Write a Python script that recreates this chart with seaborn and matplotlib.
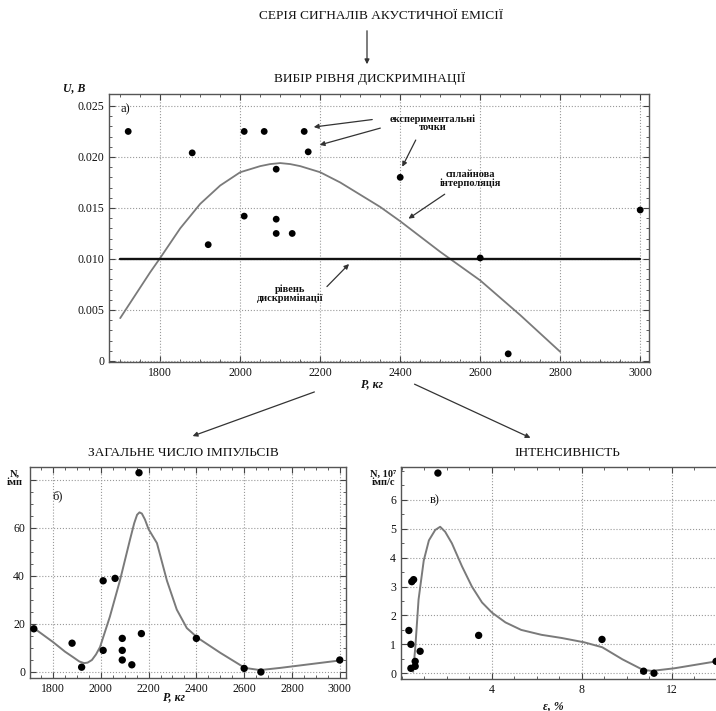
import numpy as np
import matplotlib
matplotlib.use("Agg")
import matplotlib.pyplot as plt
import pandas as pd
import seaborn as sns

# experimental points (same loads for panels a and b)
load = [1720, 1880, 1920, 2010, 2010, 2060, 2090, 2090, 2090, 2130, 2160, 2170, 2400, 2600, 2670, 3000]
u_volt = [0.0225, 0.0204, 0.0114, 0.0225, 0.0142, 0.0225, 0.0188, 0.0139, 0.0125, 0.0125,
          0.0225, 0.0205, 0.0180, 0.0101, 0.0007, 0.0148]
n_imp = [18, 12, 2, 38, 9, 39, 14, 9, 5, 3, 83, 16, 14, 1.5, 0, 5]

# spline curves
spl_a_x = [1700, 1725, 1750, 1775, 1800, 1850, 1900, 1950, 2000, 2050, 2075, 2100, 2125, 2150,
           2200, 2250, 2300, 2350, 2400, 2450, 2500, 2550, 2600, 2650, 2700, 2750, 2800]
spl_a_y = [0.0042, 0.0057, 0.0072, 0.0087, 0.0101, 0.0130, 0.0154, 0.0172, 0.0185, 0.0191,
           0.0193, 0.0194, 0.0193, 0.0191, 0.0185, 0.0175, 0.0163, 0.0151, 0.0137, 0.0122,
           0.0107, 0.0093, 0.0079, 0.0062, 0.0045, 0.0027, 0.0009]
discr_level = 0.010

spl_b_x = [1720, 1800, 1850, 1884, 1910, 1930, 1945, 1963, 1980, 1997, 2038, 2080, 2122, 2140,
           2152, 2162, 2172, 2185, 2200, 2235, 2277, 2318, 2360, 2406, 2500, 2603, 2666, 2750, 3000]
spl_b_y = [18.3, 12.5, 8.5, 6.2, 4.4, 3.7, 3.9, 5.0, 7.3, 10.4, 23, 38, 55, 62, 65.5, 66.5, 66,
           63.5, 59.5, 53.7, 38, 26, 18.3, 14.2, 8.0, 1.7, 0.8, 1.7, 4.8]

# panel c
eps = [0.31, 0.40, 0.40, 0.44, 0.52, 0.59, 0.59, 0.81, 1.6, 3.41, 8.89, 10.74, 11.2, 13.96]
intens = [1.48, 1.0, 0.17, 3.17, 3.24, 0.41, 0.24, 0.76, 6.93, 1.31, 1.17, 0.07, 0.0, 0.41]
spl_c_x = [0.5, 0.6, 0.74, 0.97, 1.2, 1.48, 1.7, 1.92, 2.22, 2.67, 3.11, 3.56, 4.0, 4.6, 5.3,
           6.2, 7.1, 8.1, 8.9, 9.8, 10.7, 11.1, 12.1, 13.96]
spl_c_y = [0.05, 0.94, 2.55, 3.9, 4.6, 4.96, 5.07, 4.9, 4.5, 3.7, 3.0, 2.45, 2.1, 1.76, 1.5,
           1.33, 1.22, 1.07, 0.9, 0.48, 0.12, 0.08, 0.17, 0.41]

sns.set_style("ticks")
plt.rcParams['font.family'] = ['Liberation Serif', 'DejaVu Serif']
plt.rcParams['text.color'] = '#111111'

W, H = 716, 711
fig = plt.figure(figsize=(W / 100, H / 100), dpi=100)


def box(l, t, r, b):
    return [l / W, 1 - b / H, (r - l) / W, (b - t) / H]


def fpos(x, y):
    return (x / W, 1 - y / H)


def style_ax(ax):
    ax.grid(True, which='major', linestyle=':', color='#999999', linewidth=0.8)
    ax.tick_params(which='both', direction='in', top=True, right=True, labelsize=8.5,
                   colors='#444444', labelcolor='#111111')
    ax.tick_params(which='major', length=4)
    ax.tick_params(which='minor', length=2)
    for s in ax.spines.values():
        s.set_color('#555555')
        s.set_linewidth(1.0)
    ax.set_xlabel('')
    ax.set_ylabel('')


line_col = '#7a7a7a'

# ---- panel a
ax1 = fig.add_axes(box(109, 94, 649, 362))
df_a = pd.DataFrame({'x': load, 'y': u_volt})
sns.lineplot(x=spl_a_x, y=spl_a_y, ax=ax1, color=line_col, lw=1.3, sort=False, estimator=None)
ax1.plot([1700, 3000], [discr_level, discr_level], color='#111111', lw=1.7)
sns.scatterplot(data=df_a, x='x', y='y', ax=ax1, color='black', s=24, edgecolor='none', zorder=5)
ax1.set_xlim(1672, 3022)
ax1.set_ylim(-0.0001, 0.02617)
ax1.set_xticks(np.arange(1800, 3001, 200))
ax1.set_xticks(np.arange(1700, 3001, 50), minor=True)
ax1.set_yticks([0, 0.005, 0.010, 0.015, 0.020, 0.025])
ax1.set_yticklabels(['0', '0.005', '0.010', '0.015', '0.020', '0.025'])
ax1.set_yticks(np.arange(0, 0.026, 0.001), minor=True)
style_ax(ax1)
ax1.text(0.022, 0.965, 'а)', transform=ax1.transAxes, fontsize=9, va='top')

arr = dict(arrowstyle='-|>', color='#333333', lw=0.9, mutation_scale=7)
ax1.text(2480, 0.0233, 'експериментальні\nточки', fontsize=7.5, ha='center', va='center',
         linespacing=0.95, fontweight='bold')
ax1.annotate('', xy=(2177, 0.0229), xytext=(2337, 0.0237), arrowprops=arr)
ax1.annotate('', xy=(2192, 0.0211), xytext=(2357, 0.0229), arrowprops=arr)
ax1.annotate('', xy=(2402, 0.0188), xytext=(2442, 0.0219), arrowprops=arr)
ax1.text(2575, 0.0178, 'сплайнова\nінтерполяція', fontsize=7.5, ha='center', va='center',
         linespacing=0.95, fontweight='bold')
ax1.annotate('', xy=(2415, 0.0138), xytext=(2517, 0.0165), arrowprops=arr)
ax1.text(2125, 0.0066, 'рівень\nдискримінації', fontsize=7.5, ha='center', va='center',
         linespacing=0.95, fontweight='bold')
ax1.annotate('', xy=(2277, 0.0097), xytext=(2212, 0.0071), arrowprops=arr)

# ---- panel b
ax2 = fig.add_axes(box(30, 467, 346, 678))
df_b = pd.DataFrame({'x': load, 'y': n_imp})
sns.lineplot(x=spl_b_x, y=spl_b_y, ax=ax2, color=line_col, lw=1.4, sort=False, estimator=None)
sns.scatterplot(data=df_b, x='x', y='y', ax=ax2, color='black', s=28, edgecolor='none', zorder=5)
ax2.set_xlim(1704, 3026)
ax2.set_ylim(-2.5, 85.4)
ax2.set_xticks(np.arange(1800, 3001, 200))
ax2.set_xticks(np.arange(1750, 3001, 50), minor=True)
ax2.set_yticks([0, 20, 40, 60, 80])
ax2.set_yticklabels(['0', '20', '40', '60', ''])
ax2.set_yticks(np.arange(0, 85, 5), minor=True)
style_ax(ax2)
ax2.text(0.07, 0.89, 'б)', transform=ax2.transAxes, fontsize=9, va='top')

# ---- panel c
ax3 = fig.add_axes(box(401, 467, 726, 679))
df_c = pd.DataFrame({'x': eps, 'y': intens})
sns.lineplot(x=spl_c_x, y=spl_c_y, ax=ax3, color=line_col, lw=1.4, sort=False, estimator=None)
sns.scatterplot(data=df_c, x='x', y='y', ax=ax3, color='black', s=28, edgecolor='none', zorder=5)
ax3.set_xlim(-0.04, 14.4)
ax3.set_ylim(-0.2, 7.14)
ax3.set_xticks([4, 8, 12])
ax3.set_xticks(np.arange(0, 14.5, 1), minor=True)
ax3.set_yticks([0, 1, 2, 3, 4, 5, 6])
ax3.set_yticks(np.arange(0, 7.1, 0.5), minor=True)
style_ax(ax3)
ax3.text(0.09, 0.87, 'в)', transform=ax3.transAxes, fontsize=9, va='top')

# ---- figure texts and connecting arrows
fig.text(*fpos(381, 16), 'СЕРІЯ СИГНАЛІВ АКУСТИЧНОЇ ЕМІСІЇ', fontsize=9.5, ha='center', va='center')
fig.text(*fpos(370, 78), 'ВИБІР РІВНЯ ДИСКРИМІНАЦІЇ', fontsize=9.5, ha='center', va='center')
fig.text(*fpos(183, 453), 'ЗАГАЛЬНЕ ЧИСЛО ІМПУЛЬСІВ', fontsize=9.5, ha='center', va='center')
fig.text(*fpos(567, 453), 'ІНТЕНСИВНІСТЬ', fontsize=9.5, ha='center', va='center')

fig.text(*fpos(74, 88), 'U, В', fontsize=8.5, ha='center', va='center', style='italic', fontweight='bold')
fig.text(*fpos(372, 384), 'P, кг', fontsize=8.5, ha='center', va='center', style='italic', fontweight='bold')
fig.text(*fpos(174, 697), 'P, кг', fontsize=8.5, ha='center', va='center', style='italic', fontweight='bold')
fig.text(*fpos(553, 706), 'ε, %', fontsize=8.5, ha='center', va='center', style='italic', fontweight='bold')
fig.text(*fpos(15, 478), 'N,\nімп', fontsize=7.5, ha='center', va='center', linespacing=0.9,
         fontweight='bold')
fig.text(*fpos(383, 478), 'N, 10⁷\nімп/с', fontsize=7.5, ha='center', va='center', linespacing=0.9,
         fontweight='bold')

farr = dict(arrowstyle='-|>', color='#333333', lw=0.9, mutation_scale=7)
fig.add_artist(matplotlib.patches.FancyArrowPatch(fpos(367, 28), fpos(367, 67),
                                                  transform=fig.transFigure, **farr))
fig.add_artist(matplotlib.patches.FancyArrowPatch(fpos(317, 391), fpos(190, 437),
                                                  transform=fig.transFigure, **farr))
fig.add_artist(matplotlib.patches.FancyArrowPatch(fpos(412, 383), fpos(533, 439),
                                                  transform=fig.transFigure, **farr))

plt.savefig('out.png', dpi=100)
